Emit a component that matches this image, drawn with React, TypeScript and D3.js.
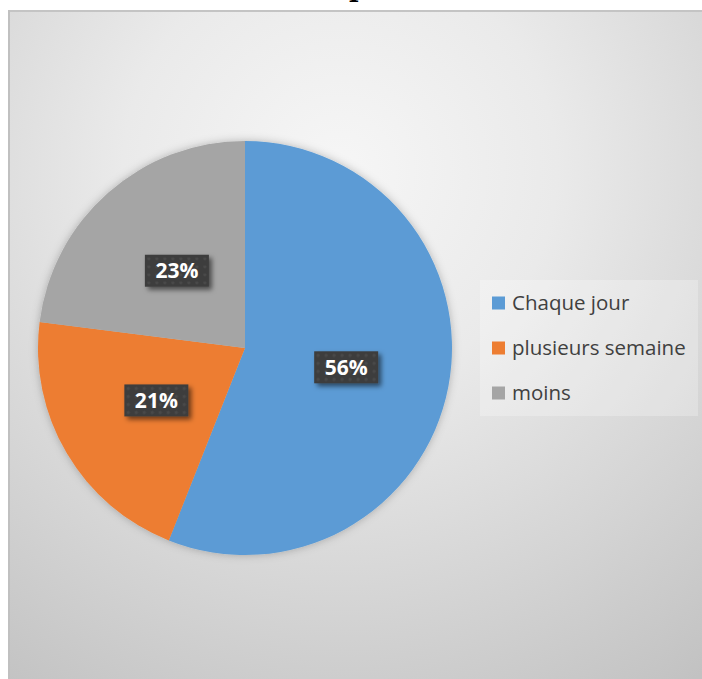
import React from "react";
import * as d3 from "d3";

const categories = ["Chaque jour", "plusieurs semaine", "moins"];
const values = [56, 21, 23];
const labels = ["56%", "21%", "23%"];
const colors = ["#5B9BD5", "#ED7D31", "#A5A5A5"];

export default function App() {
  const W = 702, H = 679;
  const cx = 245, cy = 348, R = 207;
  const pie = d3.pie<number>().sort(null).value((d) => d)(values);
  const arc = d3.arc<d3.PieArcDatum<number>>().innerRadius(0).outerRadius(R);
  const labelArc = d3.arc<d3.PieArcDatum<number>>().innerRadius(103).outerRadius(103);
  const lx = 480, ly = 280, lw = 218, lh = 136;
  return (
    <svg width={W} height={H} style={{ position: "absolute", left: 0, top: 0 }} xmlns="http://www.w3.org/2000/svg">
      <defs>
        <radialGradient id="bg" cx="340" cy="170" r="620" gradientUnits="userSpaceOnUse">
          <stop offset="0" stopColor="#f6f6f6" />
          <stop offset="0.35" stopColor="#eaeaea" />
          <stop offset="1" stopColor="#c2c2c2" />
        </radialGradient>
        <filter id="pieShadow" x="-20%" y="-20%" width="140%" height="140%">
          <feDropShadow dx="0" dy="0" stdDeviation="4" floodColor="#000" floodOpacity="0.25" />
        </filter>
        <filter id="boxShadow" x="-30%" y="-30%" width="170%" height="170%">
          <feDropShadow dx="3" dy="3" stdDeviation="2.5" floodColor="#000" floodOpacity="0.55" />
        </filter>
        <pattern id="dots" width="8" height="8" patternUnits="userSpaceOnUse">
          <rect width="8" height="8" fill="#3d3d3d" />
          <circle cx="4" cy="4" r="1.6" fill="#4a4a4a" />
        </pattern>
      </defs>
      <rect x={0} y={0} width={W} height={H} fill="#ffffff" />
      <text x={358} y={-3} textAnchor="middle" fontFamily="DejaVu Serif" fontWeight="bold" fontSize={26} fill="#000">p</text>
      <rect x={8} y={10} width={W} height={H} fill="url(#bg)" />
      <line x1={8} y1={11} x2={W} y2={11} stroke="#c4c4c4" strokeWidth={2} />
      <line x1={9} y1={10} x2={9} y2={H} stroke="#c0c0c0" strokeWidth={2} />
      <g transform={`translate(${cx},${cy})`}>
        <g filter="url(#pieShadow)">
          {pie.map((d, i) => (
            <path key={i} d={arc(d) || ""} fill={colors[i]} />
          ))}
        </g>
        {pie.map((d, i) => {
          const [x, y] = labelArc.centroid(d);
          const bw = 64, bh = 32;
          return (
            <g key={"l" + i} transform={`translate(${x},${y})`}>
              <rect x={-bw / 2} y={-bh / 2} width={bw} height={bh} fill="url(#dots)" filter="url(#boxShadow)" />
              <text x={0} y={7.5} textAnchor="middle" fontFamily="Open Sans" fontWeight="bold" fontSize={21} fill="#ffffff">{labels[i]}</text>
            </g>
          );
        })}
      </g>
      <rect x={lx} y={ly} width={lw} height={lh} fill="#ffffff" fillOpacity={0.25} />
      {categories.map((c, i) => (
        <g key={c} transform={`translate(${lx},${ly + 23 + i * 45})`}>
          <rect x={12} y={-6.5} width={13} height={13} fill={colors[i]} />
          <text x={32} y={7} fontFamily="Open Sans" fontSize={20.5} fill="#404040">{c}</text>
        </g>
      ))}
    </svg>
  );
}
